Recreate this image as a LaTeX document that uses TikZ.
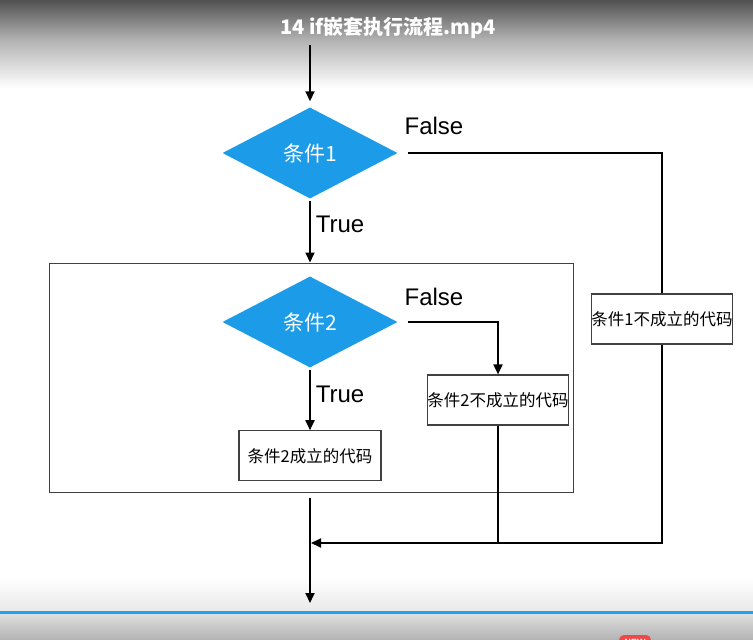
\documentclass[tikz,border=0pt]{standalone}
\usepackage{fontspec}
\setmainfont{Liberation Sans}
\newfontfamily\cjk{Noto Sans CJK SC}
\usetikzlibrary{arrows.meta,positioning,shapes.geometric}
\definecolor{CondBlue}{HTML}{1B9BE8}
\definecolor{BarBlue}{HTML}{1EA3F2}
\definecolor{BadgeRed}{HTML}{F04848}
\tikzset{
  cond/.style={diamond,fill=CondBlue,minimum width=175pt,minimum height=91pt,inner sep=0pt,text=white,font=\cjk\fontsize{21}{23}\selectfont},
  codebox/.style={draw=black!75,line width=1.2pt,minimum width=141pt,minimum height=50pt,inner sep=0pt,font=\cjk\fontsize{16.5}{18}\selectfont},
  flowarrow/.style={-{Triangle[length=10pt,width=9pt]},line width=1.8pt},
  flowline/.style={line width=1.8pt},
  branch/.style={font=\fontsize{24}{26}\selectfont}
}

\begin{document}
\begin{tikzpicture}[x=1pt,y=-1pt]
\useasboundingbox (0,0) rectangle (753,640);
\clip (0,0) rectangle (753,640);
% player bars
\shade[top color=black!68,bottom color=black!30] (0,0) rectangle (753,40);
\shade[top color=black!30,bottom color=white] (0,40) rectangle (753,88);
\node[font=\cjk\bfseries\fontsize{20}{22}\selectfont,text=white] (title) at (388,28) {14 if嵌套执行流程.mp4};
\shade[top color=white,bottom color=black!9] (0,578) rectangle (753,611);
\fill[BarBlue] (0,611) rectangle (753,614);
\shade[top color=black!13,bottom color=black!30] (0,614) rectangle (753,640);
\node[fill=BadgeRed,rounded corners=5pt,text=white,font=\bfseries\fontsize{9}{10}\selectfont,minimum width=32pt,minimum height=14pt,inner sep=1pt] (badge) at (635,642) {NEW};

% flow
\coordinate (entry) at (310,45);
\node[cond] (c1) at (310,153) {条件1};
\node[codebox] (no1) at (662,319) {条件1不成立的代码};
\node[draw=black!75,line width=1pt,minimum width=524pt,minimum height=229pt] (inner) at (311,377.5) {};
\node[cond] (c2) at (310,322) {条件2};
\node[codebox,minimum width=140pt] (no2) at (498,400) {条件2不成立的代码};
\node[codebox,minimum width=142pt,below=62.5pt of c2] (yes2) {条件2成立的代码};
\coordinate (merge) at (310,543);
\coordinate (exit) at (310,603);

\node[branch] (f1) at (434,126) {False};
\node[branch] (t1) at (340,224) {True};
\node[branch] (f2) at (434,297) {False};
\node[branch] (t2) at (340,394) {True};

\draw[flowarrow,shorten >=6pt] (entry) -- (c1.north);
\draw[flowline,shorten <=10pt] (c1.east) -| (no1.north);
\draw[flowarrow,shorten >=1pt] (no1.south) |- (merge);
\draw[flowarrow,shorten <=2pt] (c1.south) -- (c1.south |- inner.north);
\draw[flowarrow,shorten <=10pt] (c2.east) -| (no2.north);
\draw[flowline] (no2.south) -- (no2.south |- merge);
\draw[flowarrow,shorten <=2pt] (c2.south) -- (yes2.north);
\draw[flowarrow,shorten <=5pt] (inner.south -| merge) -- (exit);
\end{tikzpicture}
\end{document}
